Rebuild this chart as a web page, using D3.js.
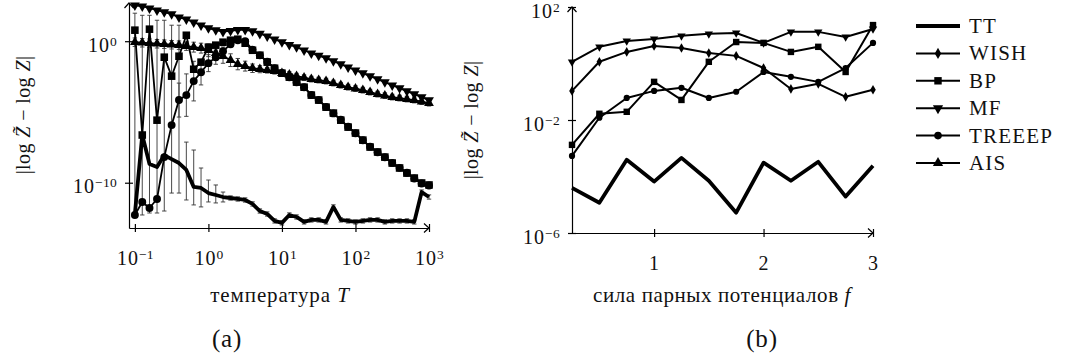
<!DOCTYPE html>
<html>
<head>
<meta charset="utf-8">
<script src="https://cdn.jsdelivr.net/npm/d3@7"></script>
<style>
  body { margin: 0; background: #fff; }
  svg text { font-family: 'Liberation Serif', 'DejaVu Serif', serif; fill: #111; }
</style>
</head>
<body>
<div id="chart"></div>
<script>

/*
 *  Data (values are log10 of |log Z~ - log Z|)
 */

// (a) temperature sweep
var temps = [0.1, 0.126, 0.158, 0.2, 0.251, 0.316, 0.398, 0.501, 0.631, 0.794,
             1, 1.26, 1.58, 2, 2.51, 3.16, 3.98, 5.01, 6.31, 7.94,
             10, 12.6, 15.8, 20, 25.1, 31.6, 39.8, 50.1, 63.1, 79.4,
             100, 126, 158, 200, 251, 316, 398, 501, 631, 794, 1000];

var ttA = [-12.2, -6.63, -8.68, -8.89, -8.05, -8.33, -8.61, -9.10, -10.30, -10.37,
           -10.73, -10.87, -11.01, -11.08, -11.15, -11.22, -11.50, -12.00, -12.21, -12.70,
           -12.84, -12.28, -12.42, -12.77, -12.63, -12.63, -12.77, -11.71, -12.63, -12.70,
           -12.77, -12.70, -12.63, -12.63, -12.77, -12.70, -12.70, -12.70, -12.77, -10.66, -11.01];
var ttAHi = [1.98, 1.83, 1.83, 1.48, 1.48, 1.13, 1.13, -7.13, -7.69, -8.96,
             -9.81, -10.16, -10.66, -10.93, -11.0, -11.07, -11.35, -11.85, -12.06, -12.55,
             -12.69, -12.13, -12.27, -12.62, -12.48, -12.48, -12.62, -11.56, -12.48, -12.55,
             -12.62, -12.55, -12.48, -12.48, -12.62, -12.55, -12.55, -12.55, -12.62, -10.51, -10.86];
var ttALo = [-12.42, -12.28, -12.14, -12.14, -12.0, -10.73, -10.73, -11.22, -11.57, -11.71,
             -11.36, -11.43, -11.36, -11.23, -11.3, -11.37, -11.65, -12.15, -12.36, -12.85,
             -12.99, -12.43, -12.57, -12.92, -12.78, -12.78, -12.92, -11.86, -12.78, -12.85,
             -12.92, -12.85, -12.78, -12.78, -12.92, -12.85, -12.85, -12.85, -12.92, -10.81, -11.16];

var bpA = [0.78, -6.63, 0.85, -5.58, -1.13, -2.47, -1.06, 0.42, -1.98, -1.48,
           -0.42, -0.28, -0.07, 0.07, 0.14, -0.14, -0.64, -0.99, -1.48, -1.91,
           -2.26, -2.54, -2.89, -3.25, -3.81, -4.16, -4.66, -5.08, -5.58, -6.07,
           -6.49, -6.99, -7.48, -7.83, -8.19, -8.61, -8.96, -9.32, -9.67, -10.02, -10.16];

var mfA = [2.54, 2.47, 2.33, 2.19, 2.05, 1.91, 1.69, 1.55, 1.34, 1.13,
           0.92, 0.78, 0.67, 0.74, 0.81, 0.81, 0.71, 0.53, 0.35, 0.14,
           -0.07, -0.25, -0.42, -0.64, -0.85, -1.02, -1.2, -1.41, -1.62, -1.84,
           -2.05, -2.26, -2.47, -2.68, -2.89, -3.11, -3.32, -3.53, -3.74, -3.95, -4.16];

var treeepA = [-12.28, -11.36, -11.79, -11.15, -8.19, -5.93, -4.16, -3.81, -2.82, -2.19,
               -1.55, -1.13, -0.71, -0.21, 0.07, 0.0, -0.6, -1.0, -1.45, -1.9,
               -2.25, -2.55, -2.9, -3.25, -3.8, -4.15, -4.65, -5.1, -5.55, -6.05,
               -6.5, -7.0, -7.45, -7.85, -8.2, -8.6, -8.95, -9.3, -9.7, -10.05, -10.2];
var treeepAErr = [0, 0, 0, 0, 0, 0, 1.2, 1.5, 1.4, 0.9,
                  0.6, 0.5, 0.3, 0.2, 0, 0, 0, 0, 0, 0,
                  0, 0, 0, 0, 0, 0, 0, 0, 0, 0,
                  0, 0, 0, 0, 0, 0, 0, 0, 0, 0, 0];

var aisA = [-0.07, -0.11, -0.14, -0.18, -0.21, -0.25, -0.28, -0.35, -0.42, -0.49,
            -0.64, -0.85, -1.06, -1.34, -1.62, -1.76, -1.91, -1.98, -2.05, -2.12,
            -2.26, -2.36, -2.47, -2.58, -2.68, -2.75, -2.82, -2.96, -3.11, -3.25,
            -3.35, -3.46, -3.6, -3.74, -3.85, -3.95, -4.02, -4.09, -4.16, -4.27, -4.38];
var aisAErr = [0.3, 0.3, 0.3, 0.3, 0.3, 0.3, 0.3, 0.3, 0.35, 0.35,
               0.45, 0.5, 0.5, 0.45, 0.4, 0.35, 0.3, 0.25, 0.2, 0.2,
               0.2, 0.2, 0.2, 0.2, 0.2, 0.2, 0.2, 0.2, 0.2, 0.2,
               0.2, 0.2, 0.2, 0.2, 0.2, 0.2, 0.2, 0.2, 0.2, 0.2, 0.2];

// (b) pairwise potential strength sweep
var strengths = [0.25, 0.5, 0.75, 1, 1.25, 1.5, 1.75, 2, 2.25, 2.5, 2.75, 3];
var ttB     = [-4.40, -4.93, -3.41, -4.18, -3.34, -4.15, -5.28, -3.51, -4.15, -3.48, -4.71, -3.62];
var wishB   = [-0.97, 0.06, 0.41, 0.62, 0.55, 0.37, 0.27, -0.16, -0.90, -0.72, -1.18, -0.93];
var bpB     = [-2.88, -1.78, -1.71, -0.65, -1.29, 0.06, 0.76, 0.73, 0.41, 0.59, -0.30, 1.36];
var mfB     = [0.06, 0.59, 0.80, 0.87, 0.98, 1.05, 1.08, 0.73, 1.12, 1.12, 0.94, 1.22];
var treeepB = [-3.27, -1.92, -1.22, -0.97, -0.86, -1.22, -1.0, -0.30, -0.47, -0.65, -0.16, 0.73];

var legendNames = ["TT", "WISH", "BP", "MF", "TREEEP", "AIS"];
var xTicksA = [-1, 0, 1, 2, 3];
var yTicksA = [0, -10];
var xTicksB = [1, 2, 3];
var yTicksB = [2, -2, -6];


/*
 *  Setup
 */

var FONT = "'Liberation Serif', 'DejaVu Serif', serif";

var svg = d3.select("#chart").append("svg")
    .attr("width", 1070)
    .attr("height", 361)
    .attr("font-family", FONT);

var pow = function(e) { return Math.pow(10, e); };

// marker shapes
var symbols = {
    TT:     null,
    WISH:   { type: d3.symbolDiamond, size: 30, rot: 0 },
    BP:     { type: d3.symbolSquare, size: 46, rot: 0 },
    MF:     { type: d3.symbolTriangle, size: 38, rot: 180 },
    TREEEP: { type: d3.symbolCircle, size: 38, rot: 0 },
    AIS:    { type: d3.symbolTriangle, size: 38, rot: 0 }
};

function supLabel(sel, exp) {
    sel.append("tspan").text("10");
    sel.append("tspan")
        .attr("dy", -6)
        .attr("font-size", 13.5)
        .attr("letter-spacing", 0.3)
        .text(String(exp).replace("-", "\u2212"));
}

function drawSeries(g, x, y, xs, ys, name, lineW, markScale) {
    var pts = xs.map(function(d, i) { return [d, pow(ys[i])]; });
    var line = d3.line()
        .x(function(d) { return x(d[0]); })
        .y(function(d) { return y(d[1]); });

    g.append("path")
        .datum(pts)
        .attr("d", line)
        .attr("fill", "none")
        .attr("stroke", "#000")
        .attr("stroke-width", lineW)
        .attr("stroke-linejoin", "round");

    var s = symbols[name];
    if (!s) return;
    g.selectAll(".m-" + name)
        .data(pts)
        .enter().append("path")
        .attr("class", "m-" + name)
        .attr("d", d3.symbol().type(s.type).size(s.size * markScale))
        .attr("transform", function(d) {
            return "translate(" + x(d[0]) + "," + y(d[1]) + ") rotate(" + s.rot + ")";
        })
        .attr("fill", "#000");
}

function drawErrors(g, x, y, xs, lo, hi) {
    xs.forEach(function(d, i) {
        if (lo[i] == null || hi[i] <= lo[i]) return;
        var px = x(d), y0 = y(pow(lo[i])), y1 = y(pow(hi[i]));
        g.append("line").attr("x1", px).attr("x2", px).attr("y1", y0).attr("y2", y1);
        g.append("line").attr("x1", px - 2.2).attr("x2", px + 2.2).attr("y1", y0).attr("y2", y0);
        g.append("line").attr("x1", px - 2.2).attr("x2", px + 2.2).attr("y1", y1).attr("y2", y1);
    });
}

function drawAxes(g, x, y, xTicks, yTicks, xFmt, yFmt) {
    var x0 = x.range()[0], x1 = x.range()[1];
    var yb = y.range()[0], yt = y.range()[1];

    var ax = g.append("g").attr("transform", "translate(0," + yb + ")")
        .call(d3.axisBottom(x).tickValues(xTicks.map(xFmt.value)).tickSize(4).tickSizeOuter(0).tickFormat(""));
    ax.attr("font-family", FONT).attr("font-size", 20);
    ax.selectAll(".tick line").attr("y1", -4).attr("stroke-width", 1.2);
    ax.select(".domain").attr("stroke-width", 1.2);
    ax.selectAll(".tick").each(function(d, i) {
        var t = d3.select(this).select("text")
            .attr("y", 37).attr("dy", null)
            .attr("letter-spacing", 1)
            .attr("fill", "#111");
        xFmt.label(t, xTicks[i]);
    });

    var ay = g.append("g").attr("transform", "translate(" + x0 + ",0)")
        .call(d3.axisLeft(y).tickValues(yTicks.map(yFmt.value)).tickSize(4).tickSizeOuter(0).tickFormat(""));
    ay.attr("font-family", FONT).attr("font-size", 20);
    ay.selectAll(".tick line").attr("x1", 4).attr("stroke-width", 1.2);
    ay.select(".domain").attr("stroke-width", 1.2);
    ay.selectAll(".tick").each(function(d, i) {
        var t = d3.select(this).select("text")
            .attr("x", -12).attr("dy", null).attr("y", 10)
            .attr("letter-spacing", 1)
            .attr("fill", "#111");
        yFmt.label(t, yTicks[i]);
    });

    // arrow heads
    g.append("path")
        .attr("d", "M" + (x1 - 5) + "," + (yb - 4.5) + "L" + x1 + "," + yb + "L" + (x1 - 5) + "," + (yb + 4.5))
        .attr("fill", "none").attr("stroke", "#000").attr("stroke-width", 1.2);
    g.append("path")
        .attr("d", "M" + (x0 - 4.5) + "," + (yt + 5) + "L" + x0 + "," + yt + "L" + (x0 + 4.5) + "," + (yt + 5))
        .attr("fill", "none").attr("stroke", "#000").attr("stroke-width", 1.2);
}

function yLabel(g, px, py) {
    var t = g.append("text")
        .attr("transform", "translate(" + px + "," + py + ") rotate(-90)")
        .attr("text-anchor", "middle")
        .attr("font-size", 20)
        .attr("letter-spacing", 0.4);
    t.append("tspan").text("|log ");
    t.append("tspan").attr("font-style", "italic").text("Z\u0303");
    t.append("tspan").text(" \u2212 log ");
    t.append("tspan").attr("font-style", "italic").text("Z");
    t.append("tspan").text("|");
}


/*
 *  Panel (a)
 */

var xA = d3.scaleLog().domain([pow(-1.08), 1000]).range([129, 429]);
var yA = d3.scaleLog().domain([pow(-13.2), pow(2.7)]).range([228, 3]);

var gA = svg.append("g");

var errA = gA.append("g").attr("stroke", "#333").attr("stroke-width", 0.9);
drawErrors(errA, xA, yA, temps, ttALo, ttAHi);
drawErrors(errA, xA, yA, temps,
    treeepA.map(function(v, i) { return treeepAErr[i] ? v - treeepAErr[i] : null; }),
    treeepA.map(function(v, i) { return v + treeepAErr[i]; }));
drawErrors(errA, xA, yA, temps,
    aisA.map(function(v, i) { return v - aisAErr[i]; }),
    aisA.map(function(v, i) { return v + aisAErr[i]; }));

drawSeries(gA, xA, yA, temps, ttA, "TT", 3.8, 1);
drawSeries(gA, xA, yA, temps, bpA, "BP", 1.8, 1.25);
drawSeries(gA, xA, yA, temps, treeepA, "TREEEP", 1.8, 1.3);
drawSeries(gA, xA, yA, temps, aisA, "AIS", 1.8, 1.1);
drawSeries(gA, xA, yA, temps, mfA, "MF", 1.8, 1.1);

var expFmt = {
    value: pow,
    label: function(t, e) { supLabel(t, e); }
};
drawAxes(gA, xA, yA, xTicksA, yTicksA, expFmt, expFmt);

yLabel(gA, 30, 115);

var xlA = gA.append("text")
    .attr("x", 280).attr("y", 302)
    .attr("text-anchor", "middle")
    .attr("font-size", 21)
    .attr("letter-spacing", 0.9);
xlA.append("tspan").text("температура ");
xlA.append("tspan").attr("font-style", "italic").text("T");

gA.append("text").attr("x", 227).attr("y", 347)
    .attr("text-anchor", "middle").attr("font-size", 25)
    .attr("letter-spacing", 0.8).text("(a)");


/*
 *  Panel (b)
 */

var xB = d3.scaleLinear().domain([0.25, 3]).range([572, 873]);
var yB = d3.scaleLog().domain([1e-6, 1e2]).range([233, 7]);

var gB = svg.append("g");

drawSeries(gB, xB, yB, strengths, ttB, "TT", 3.8, 1);
drawSeries(gB, xB, yB, strengths, wishB, "WISH", 2, 0.9);
drawSeries(gB, xB, yB, strengths, bpB, "BP", 2, 0.9);
drawSeries(gB, xB, yB, strengths, mfB, "MF", 2, 0.8);
drawSeries(gB, xB, yB, strengths, treeepB, "TREEEP", 2, 0.8);

var linFmt = {
    value: function(v) { return v; },
    label: function(t, v) { t.text(v); }
};
drawAxes(gB, xB, yB, xTicksB, yTicksB, linFmt, expFmt);

yLabel(gB, 478, 120);

var xlB = gB.append("text")
    .attr("x", 722).attr("y", 302)
    .attr("text-anchor", "middle")
    .attr("font-size", 21)
    .attr("letter-spacing", 0.6);
xlB.append("tspan").text("сила парных потенциалов ");
xlB.append("tspan").attr("font-style", "italic").text("f");

gB.append("text").attr("x", 762).attr("y", 347)
    .attr("text-anchor", "middle").attr("font-size", 25)
    .attr("letter-spacing", 0.8).text("(b)");


/*
 *  Legend
 */

var legend = svg.append("g");
var legendY = d3.scalePoint().domain(legendNames).range([26, 163]);

legendNames.forEach(function(name) {
    var ly = legendY(name);
    legend.append("line")
        .attr("x1", 916).attr("x2", 960).attr("y1", ly).attr("y2", ly)
        .attr("stroke", "#000")
        .attr("stroke-width", name == "TT" ? 3.8 : 2);
    var s = symbols[name];
    if (s) {
        legend.append("path")
            .attr("d", d3.symbol().type(s.type).size(s.size * 1.2))
            .attr("transform", "translate(938," + ly + ") rotate(" + s.rot + ")")
            .attr("fill", "#000");
    }
    legend.append("text")
        .attr("x", 969).attr("y", ly + 7)
        .attr("font-size", 21)
        .attr("letter-spacing", 1.2)
        .text(name);
});

</script>
</body>
</html>
